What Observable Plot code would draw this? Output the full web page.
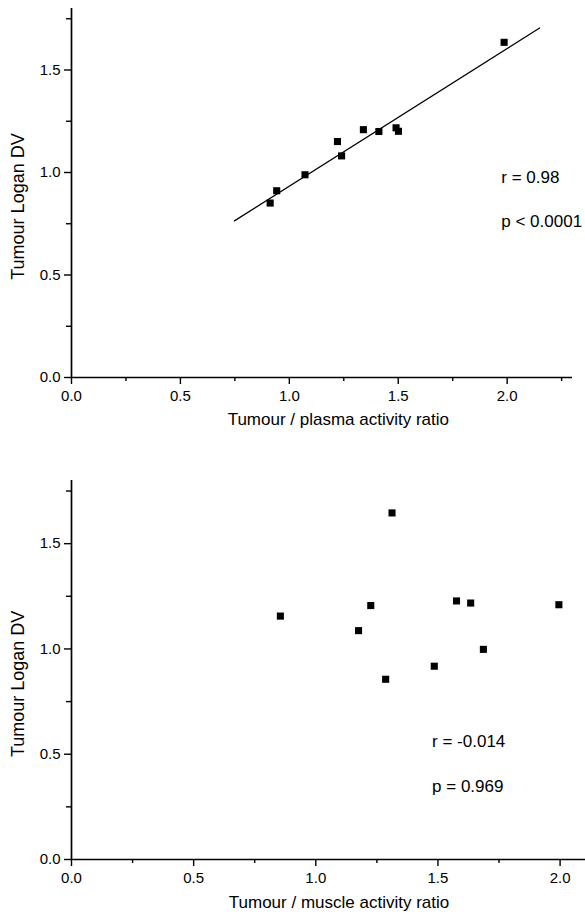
<!DOCTYPE html>
<html><head><meta charset="utf-8">
<script src="https://cdn.jsdelivr.net/npm/d3@7"></script>
<script src="https://cdn.jsdelivr.net/npm/@observablehq/plot@0.6"></script>
<style>
html,body{margin:0;padding:0;background:#fff;overflow:hidden;width:585px;height:919px}
#chart svg{display:block}
</style></head><body><div id="chart"></div>
<script>
// Top panel: tumour / plasma activity ratio vs tumour Logan DV
const plasmaRatio = [0.912, 0.942, 1.072, 1.221, 1.240, 1.340, 1.411, 1.490, 1.501, 1.986];
const plasmaDV    = [0.851, 0.911, 0.989, 1.151, 1.081, 1.209, 1.200, 1.218, 1.201, 1.635];
// fitted regression line end points
const fitRatio = [0.748, 2.149];
const fitDV    = [0.764, 1.705];
// Bottom panel: tumour / muscle activity ratio vs tumour Logan DV
const muscleRatio = [0.855, 1.175, 1.225, 1.286, 1.312, 1.485, 1.576, 1.634, 1.686, 1.995];
const muscleDV    = [1.156, 1.087, 1.206, 0.856, 1.646, 0.918, 1.228, 1.218, 0.998, 1.210];

const majorXTicks = [0, 0.5, 1.0, 1.5, 2.0];
const minorXTicks = [0.25, 0.75, 1.25, 1.75, 2.25];
const majorYTicks = [0, 0.5, 1.0, 1.5];
const minorYTicks = [0.25, 0.75, 1.25, 1.75];

const yLabel = "Tumour Logan DV";
const topXLabel = "Tumour / plasma activity ratio";
const bottomXLabel = "Tumour / muscle activity ratio";
const topStats = ["r = 0.98", "p < 0.0001"];
const bottomStats = ["r = -0.014", "p = 0.969"];

const fmt = d3.format(".1f");
const FONT = "'Liberation Sans', Arial, Helvetica, sans-serif";

function panel(cfg) {
  const pts = cfg.xs.map((x, i) => ({x, y: cfg.ys[i]}));
  const marks = [
    Plot.axisX({ticks: minorXTicks, tickSize: 4, tickFormat: () => "", strokeWidth: 1.4, label: null}),
    Plot.axisX({ticks: majorXTicks, tickSize: 7, tickPadding: 6, tickFormat: fmt, strokeWidth: 1.4, fontSize: 15, label: null}),
    Plot.axisY({ticks: minorYTicks, tickSize: 5, tickFormat: () => "", strokeWidth: 1.4, label: null}),
    Plot.axisY({ticks: majorYTicks, tickSize: 7, tickPadding: 4, tickFormat: fmt, strokeWidth: 1.4, fontSize: 15, label: null}),
    Plot.ruleY([0], {strokeWidth: 1.7}),
    Plot.ruleX([0], {strokeWidth: 1.7})
  ];
  if (cfg.fit) {
    const fit = cfg.fit.x.map((x, i) => ({x, y: cfg.fit.y[i]}));
    marks.push(Plot.line(fit, {x: "x", y: "y", strokeWidth: 1.2}));
  }
  marks.push(Plot.dot(pts, {x: "x", y: "y", symbol: "square", r: 4, fill: "black", stroke: "none"}));
  marks.push(Plot.text(cfg.stats, {x: () => cfg.statX, y: (d, i) => cfg.statY[i], text: d => d,
    textAnchor: "start", lineAnchor: "bottom", fontSize: 17}));
  marks.push(Plot.text([cfg.xLabel], {x: () => cfg.labelX, frameAnchor: "bottom", dy: cfg.labelDy,
    textAnchor: "middle", lineAnchor: "bottom", fontSize: 17, text: d => d}));
  marks.push(Plot.text([yLabel], {y: () => 0.834, frameAnchor: "left", dx: -53, rotate: -90,
    textAnchor: "middle", lineAnchor: "middle", fontSize: 18, text: d => d}));
  const svg = Plot.plot({
    width: 585, height: cfg.height,
    marginLeft: 71, marginRight: cfg.marginRight, marginTop: cfg.marginTop, marginBottom: cfg.marginBottom,
    x: {domain: cfg.xDomain},
    y: {domain: [0, 1.8]},
    style: {fontFamily: FONT, fontSize: "15px", color: "black", background: "white"},
    marks
  });
  d3.select(svg).selectAll('g[aria-label$="tick label"]').attr("font-size", 15).style("font-size", "15px");
  d3.select(svg).selectAll('g[aria-label$="tick label"] text').style("font-size", "15px");
  return svg;
}

const chart = document.getElementById("chart");
chart.append(panel({
  xs: plasmaRatio, ys: plasmaDV, fit: {x: fitRatio, y: fitDV},
  stats: topStats, statX: 1.973, statY: [0.948, 0.736],
  xLabel: topXLabel, labelX: 1.225, labelDy: 47,
  xDomain: [0, 2.3], height: 440, marginTop: 8, marginBottom: 63, marginRight: 13
}));
chart.append(panel({
  xs: muscleRatio, ys: muscleDV, fit: null,
  stats: bottomStats, statX: 1.476, statY: [0.535, 0.321],
  xLabel: bottomXLabel, labelX: 1.095, labelDy: 48,
  xDomain: [0, 2.104], height: 479, marginTop: 40, marginBottom: 60, marginRight: 0
}));
</script></body></html>
